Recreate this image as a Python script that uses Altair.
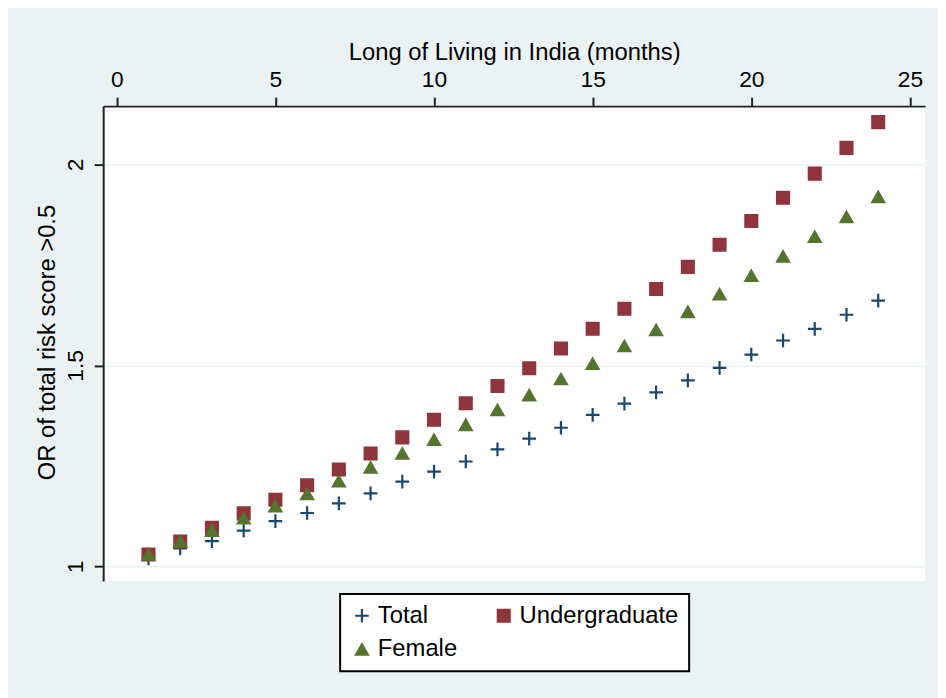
import altair as alt
import pandas as pd

# ---- data ----
months = list(range(1, 25))
total = [1.020, 1.045, 1.063, 1.089, 1.113, 1.133, 1.157, 1.182, 1.211, 1.236,
         1.261, 1.291, 1.318, 1.345, 1.377, 1.405, 1.433, 1.463, 1.494, 1.527,
         1.562, 1.591, 1.626, 1.661]
undergraduate = [1.030, 1.062, 1.096, 1.132, 1.166, 1.202, 1.241, 1.281, 1.321, 1.365,
                 1.406, 1.449, 1.493, 1.542, 1.591, 1.641, 1.690, 1.745, 1.800, 1.859,
                 1.917, 1.977, 2.041, 2.105]
female = [1.030, 1.062, 1.089, 1.120, 1.150, 1.180, 1.212, 1.246, 1.281, 1.315,
          1.352, 1.389, 1.426, 1.466, 1.504, 1.548, 1.588, 1.633, 1.677, 1.723,
          1.771, 1.820, 1.869, 1.919]

series_names = ["Total", "Undergraduate", "Female"]
series_colors = ["#1a476f", "#90353b", "#55752f"]
series_shapes = ["M-1.15,0H1.15M0,-1.15V1.15", "square", "triangle-up"]
x_ticks = [0, 5, 10, 15, 20, 25]
y_ticks = [1, 1.5, 2]

rows = []
for name, vals in zip(series_names, [total, undergraduate, female]):
    for m, v in zip(months, vals):
        rows.append({"months": m, "OR": v, "series": name})
df = pd.DataFrame(rows)

FONT = "Liberation Sans"
BG = "#eaf2f3"
color_scale = alt.Scale(domain=series_names, range=series_colors)
shape_scale = alt.Scale(domain=series_names, range=series_shapes)

chart = alt.Chart(df).mark_point(
    filled=True, size=144, strokeWidth=2.2, opacity=1
).encode(
    x=alt.X("months:Q",
            scale=alt.Scale(domain=[-0.428, 25.478], nice=False, zero=False),
            axis=alt.Axis(orient="top", values=x_ticks, grid=False,
                          title="Long of Living in India (months)",
                          labelBaseline="alphabetic", labelPadding=11,
                          labelAlign="center",
                          titleY=-47, titleBaseline="alphabetic")),
    y=alt.Y("OR:Q",
            scale=alt.Scale(domain=[0.9638, 2.1448], nice=False, zero=False),
            axis=alt.Axis(orient="left", values=y_ticks, format="~g",
                          title="OR of total risk score >0.5",
                          grid=True, gridColor=BG, gridWidth=1.5,
                          labelAngle=270, labelAlign="center",
                          labelBaseline="alphabetic", labelPadding=12,
                          titleAngle=270, titleX=-49, titleY=238,
                          titleAlign="center", titleBaseline="alphabetic")),
    color=alt.Color("series:N", scale=color_scale, legend=alt.Legend(title=None)),
    stroke=alt.Stroke("series:N", scale=color_scale, legend=alt.Legend(title=None)),
    shape=alt.Shape("series:N", scale=shape_scale, legend=alt.Legend(title=None)),
).properties(
    width=829, height=479,
    autosize=alt.AutoSizeParams(type="none"),
    padding={"left": 96, "top": 96, "right": 13, "bottom": 115},
    background=BG,
).configure_view(
    fill="white", strokeWidth=0
).configure_axis(
    labelFont=FONT, labelFontSize=23, labelColor="#000",
    titleFont=FONT, titleFontSize=24, titleColor="#000", titleFontWeight="normal",
    domainColor="#222", domainWidth=2, tickColor="#222", tickWidth=2, tickSize=9,
).configure_legend(
    orient="none", legendX=239, legendY=492, direction="horizontal",
    columns=2, columnPadding=34, rowPadding=10, padding=10,
    strokeColor="#000", strokeWidth=2, fillColor="white",
    labelFont=FONT, labelFontSize=24, labelColor="#000", labelOffset=4,
    labelLimit=400,
    symbolSize=144, symbolStrokeWidth=2.2, symbolOpacity=1,
)

chart.save("out.html", embed_options={"renderer": "svg", "actions": False})
